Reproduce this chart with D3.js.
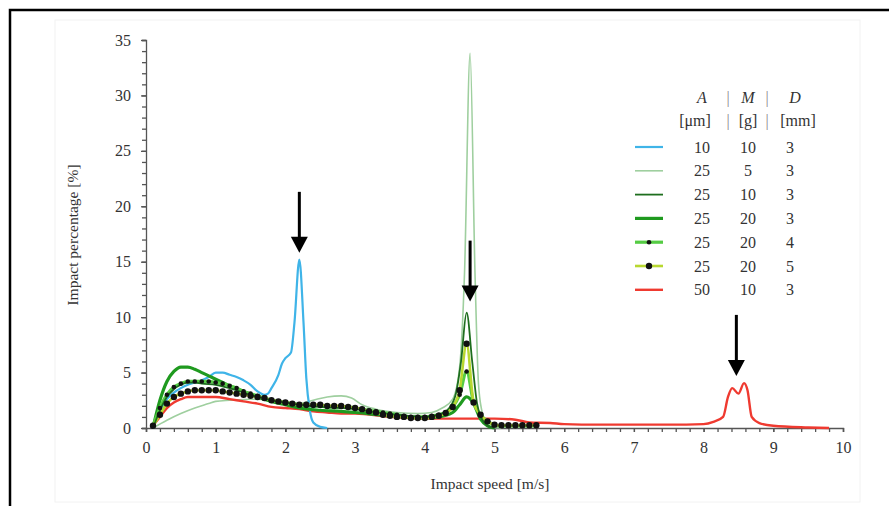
<!DOCTYPE html>
<html><head><meta charset="utf-8">
<script src="https://cdn.jsdelivr.net/npm/d3@7"></script>
<style>body{margin:0;background:#fff}</style>
</head><body><svg id="c" width="889" height="506"></svg>
<script>
// ---------- data ----------
const xTicks = [0,1,2,3,4,5,6,7,8,9,10];
const yTicks = [0,5,10,15,20,25,30,35];

const legendHeader = ["A","|","M","|","D"];
const legendUnits = ["[μm]","|","[g]","|","[mm]"];
const legendA = [10,25,25,25,25,25,50];
const legendM = [10,5,10,20,20,20,10];
const legendD = [3,3,3,3,4,5,3];

// A=10, M=10, D=3 (blue)
const s10_10_3 = [[0.1,0],[0.2,1.5],[0.3,2.6],[0.4,3.2],[0.5,3.6],[0.6,3.9],[0.7,4.1],[0.8,4.3],[0.9,4.6],[1.0,5.0],[1.1,5.0],[1.2,4.8],[1.3,4.6],[1.4,4.3],[1.5,3.9],[1.6,3.3],[1.7,3.0],[1.75,3.1],[1.8,3.6],[1.9,4.8],[1.95,5.8],[2.0,6.3],[2.08,6.8],[2.13,9.5],[2.2,15.2],[2.26,9.5],[2.3,4.5],[2.35,1.6],[2.4,0.5],[2.5,0.1],[2.6,0]];
// A=25, M=5, D=3 (pale green)
const s25_5_3 = [[0.1,0],[0.3,0.7],[0.5,1.3],[0.7,1.8],[0.9,2.2],[1.0,2.4],[1.2,2.5],[1.5,2.6],[1.8,2.5],[2.0,2.3],[2.2,2.2],[2.45,2.6],[2.6,2.8],[2.8,2.9],[2.95,2.7],[3.1,2.1],[3.3,1.7],[3.6,1.4],[3.9,1.3],[4.1,1.4],[4.25,1.8],[4.4,2.6],[4.5,5.5],[4.57,14],[4.65,33.8],[4.72,14],[4.77,4],[4.82,1.5],[4.88,0.5],[4.95,0.1],[5.1,0]];
// A=25, M=10, D=3 (dark green)
const s25_10_3 = [[0.1,0],[0.2,1.6],[0.3,2.8],[0.4,3.5],[0.5,3.9],[0.6,4.1],[0.7,4.1],[0.8,4.0],[1.0,3.9],[1.2,3.6],[1.4,3.2],[1.6,2.8],[1.8,2.5],[2.0,2.3],[2.2,2.1],[2.5,1.9],[2.8,1.8],[3.0,1.7],[3.3,1.4],[3.6,1.2],[4.0,1.0],[4.2,1.2],[4.35,1.8],[4.45,3.2],[4.52,6],[4.6,10.4],[4.68,6],[4.75,2.2],[4.82,0.8],[4.9,0.2],[5.0,0]];
// A=25, M=20, D=3 (thick green)
const s25_20_3 = [[0.1,0],[0.2,2.5],[0.3,4.2],[0.4,5.1],[0.5,5.5],[0.6,5.5],[0.7,5.3],[0.8,5.0],[0.9,4.7],[1.0,4.4],[1.1,4.1],[1.2,3.8],[1.4,3.3],[1.6,2.8],[1.8,2.4],[2.0,2.1],[2.2,1.8],[2.5,1.6],[2.8,1.5],[3.0,1.4],[3.5,1.1],[4.0,0.9],[4.2,1.0],[4.4,1.4],[4.5,2.1],[4.6,2.8],[4.7,2.2],[4.8,0.8],[4.9,0.2],[5.0,0]];
// A=25, M=20, D=4 (green, small dots) — sampled every 0.1 m/s
const s25_20_4 = [[0.1,0.2],[0.2,1.8],[0.3,3.0],[0.4,3.7],[0.5,4.0],[0.6,4.2],[0.7,4.2],[0.8,4.2],[0.9,4.2],[1.0,4.1],[1.1,4.0],[1.2,3.8],[1.3,3.6],[1.4,3.3],[1.5,3.1],[1.6,2.9],[1.7,2.7],[1.8,2.5],[1.9,2.4],[2.0,2.3],[2.1,2.2],[2.2,2.1],[2.3,2.0],[2.4,2.0],[2.5,2.0],[2.6,1.9],[2.7,1.9],[2.8,1.9],[2.9,1.9],[3.0,1.8],[3.1,1.7],[3.2,1.6],[3.3,1.5],[3.4,1.4],[3.5,1.3],[3.6,1.2],[3.7,1.1],[3.8,1.0],[3.9,1.0],[4.0,1.0],[4.1,1.1],[4.2,1.2],[4.3,1.4],[4.4,1.9],[4.5,3.0],[4.6,5.1],[4.7,2.3],[4.8,1.2],[4.9,0.6],[5.0,0.3],[5.1,0.2],[5.2,0.2],[5.3,0.2],[5.4,0.2],[5.5,0.2],[5.6,0.2]];
// A=25, M=20, D=5 (yellow-green, big dots) — sampled every 0.1 m/s
const s25_20_5 = [[0.1,0.2],[0.2,1.2],[0.3,2.2],[0.4,2.8],[0.5,3.1],[0.6,3.3],[0.7,3.4],[0.8,3.4],[0.9,3.4],[1.0,3.4],[1.1,3.3],[1.2,3.2],[1.3,3.1],[1.4,3.0],[1.5,2.9],[1.6,2.8],[1.7,2.7],[1.8,2.5],[1.9,2.4],[2.0,2.3],[2.1,2.2],[2.2,2.1],[2.3,2.1],[2.4,2.1],[2.5,2.1],[2.6,2.0],[2.7,2.0],[2.8,2.0],[2.9,1.9],[3.0,1.8],[3.1,1.7],[3.2,1.5],[3.3,1.4],[3.4,1.2],[3.5,1.1],[3.6,1.0],[3.7,1.0],[3.8,0.9],[3.9,0.9],[4.0,0.9],[4.1,1.0],[4.2,1.1],[4.3,1.35],[4.4,1.9],[4.5,3.4],[4.6,7.6],[4.7,2.3],[4.8,1.2],[4.9,0.6],[5.0,0.3],[5.1,0.25],[5.2,0.25],[5.3,0.25],[5.4,0.25],[5.5,0.25],[5.6,0.25]];
// A=50, M=10, D=3 (red)
const s50_10_3 = [[0.1,0.2],[0.2,1.0],[0.3,1.8],[0.4,2.3],[0.5,2.6],[0.6,2.8],[0.8,2.8],[1.0,2.8],[1.2,2.6],[1.4,2.4],[1.6,2.2],[1.8,1.9],[2.0,1.8],[2.2,1.7],[2.4,1.5],[2.6,1.4],[2.8,1.3],[3.0,1.3],[3.5,1.0],[4.0,0.85],[4.5,0.85],[5.0,0.85],[5.3,0.75],[5.5,0.5],[5.8,0.45],[6.0,0.35],[6.5,0.3],[7.0,0.3],[7.5,0.3],[8.0,0.35],[8.14,0.55],[8.28,1.0],[8.35,2.8],[8.41,3.6],[8.5,3.1],[8.58,4.05],[8.63,3.4],[8.69,1.0],[8.8,0.45],[9.0,0.2],[9.5,0.05],[9.8,0]];

// arrows: [x, y of tip] in data units
const arrowTips = [[2.2,15.8],[4.65,11.4],[8.47,4.7]];
const arrowLens = [55,55,55];

// ---------- drawing ----------
const svg = d3.select("#c");
const serif = "'Liberation Serif','DejaVu Serif',serif";
const x = d3.scaleLinear().domain([0,10]).range([146,843]);
const y = d3.scaleLinear().domain([0,35]).range([428,40]);

// outer frame
svg.append("rect").attr("x",55).attr("y",20).attr("width",805).attr("height",482)
  .attr("fill","none").attr("stroke","#f2f2f2");
svg.append("path").attr("d","M10,506V10H889").attr("fill","none").attr("stroke","#000").attr("stroke-width",2.5);

const axisColor = "#555";
const gx = svg.append("g").attr("transform","translate(0,428)")
  .call(d3.axisBottom(x).tickValues(d3.range(0,10.01,0.2)).tickSize(4).tickFormat(""));
const gx2 = svg.append("g").attr("transform","translate(0,428)")
  .call(d3.axisBottom(x).tickValues(xTicks).tickSize(4).tickPadding(10).tickFormat(d3.format("d")));
const gy = svg.append("g").attr("transform","translate(146,0)")
  .call(d3.axisLeft(y).tickValues(d3.range(0,35.01,1)).tickSize(4).tickFormat(""));
const gy2 = svg.append("g").attr("transform","translate(146,0)")
  .call(d3.axisLeft(y).tickValues(yTicks).tickSize(5).tickPadding(10).tickFormat(d3.format("d")));
[gx,gx2,gy,gy2].forEach(g=>{
  g.selectAll("path").attr("stroke",axisColor).attr("stroke-width",1.3);
  g.selectAll("line").attr("stroke",axisColor).attr("stroke-width",1.3);
  g.selectAll("text").attr("font-family",serif).attr("font-size",16).attr("fill","#333");
});
gx2.selectAll("path").remove(); gy2.selectAll("path").remove();

svg.append("text").attr("x",490).attr("y",489).attr("text-anchor","middle")
  .attr("font-family",serif).attr("font-size",15.5).attr("fill","#333").text("Impact speed [m/s]");
svg.append("text").attr("transform","translate(78,235) rotate(-90)").attr("text-anchor","middle")
  .attr("font-family",serif).attr("font-size",15.5).attr("fill","#333").text("Impact percentage [%]");

const line = d3.line().x(d=>x(d[0])).y(d=>y(d[1])).curve(d3.curveMonotoneX);

const series = [
  {data:s25_5_3, color:"#9fcf9f", w:1.6},
  {data:s50_10_3, color:"#ef3a30", w:2.4},
  {data:s10_10_3, color:"#3fb4e8", w:2.2},
  {data:s25_20_3, color:"#1f9a1f", w:3.2},
  {data:s25_20_4, color:"#55cc44", w:3.2, dot:2.3},
  {data:s25_20_5, color:"#b8d830", w:2.6, dot:3.2},
  {data:s25_10_3, color:"#1e6e1e", w:1.8},
];
series.forEach(s=>{
  svg.append("path").datum(s.data).attr("d",line).attr("fill","none")
    .attr("stroke",s.color).attr("stroke-width",s.w).attr("stroke-linejoin","round");
});
series.filter(s=>s.dot).forEach(s=>{
  svg.append("g").selectAll("circle").data(s.data).join("circle")
    .attr("cx",d=>x(d[0])).attr("cy",d=>y(d[1])).attr("r",s.dot).attr("fill","#111");
});

// arrows
arrowTips.forEach((t,i)=>{
  const tx = x(t[0]), ty = y(t[1]);
  svg.append("line").attr("x1",tx).attr("x2",tx).attr("y1",ty-arrowLens[i]-6).attr("y2",ty-12)
    .attr("stroke","#000").attr("stroke-width",3);
  svg.append("path").attr("d",`M${tx-8.5},${ty-16}L${tx+8.5},${ty-16}L${tx},${ty}Z`).attr("fill","#000");
});

// legend
const colX = [702,728,748,767,795];
const lg = svg.append("g").attr("font-family",serif).attr("font-size",16).attr("fill","#333")
  .attr("text-anchor","middle").attr("opacity",0.999);
legendHeader.forEach((t,i)=>{
  lg.append("text").attr("x",colX[i]).attr("y",103)
    .attr("font-style",(t==="|")?"normal":"italic").attr("fill",(t==="|")?"#888":"#333").text(t);
});
legendUnits.forEach((t,i)=>{
  lg.append("text").attr("x",colX[i]+(i===0?-7:i===4?3:0)).attr("y",126)
    .attr("fill",(t==="|")?"#888":"#333").text(t);
});
const rowY = d3.range(7).map(i=>147+i*23.8);
legendA.forEach((a,i)=>{
  const s = [series[2],series[0],series[6],series[3],series[4],series[5],series[1]][i];
  lg.append("line").attr("x1",635).attr("x2",663).attr("y1",rowY[i]).attr("y2",rowY[i])
    .attr("stroke",s.color).attr("stroke-width",s.w);
  if (s.dot) lg.append("circle").attr("cx",649).attr("cy",rowY[i]).attr("r",s.dot).attr("fill","#111");
  lg.append("text").attr("x",702).attr("y",rowY[i]+5.5).text(a);
  lg.append("text").attr("x",748).attr("y",rowY[i]+5.5).text(legendM[i]);
  lg.append("text").attr("x",790).attr("y",rowY[i]+5.5).text(legendD[i]);
});
</script></body></html>
